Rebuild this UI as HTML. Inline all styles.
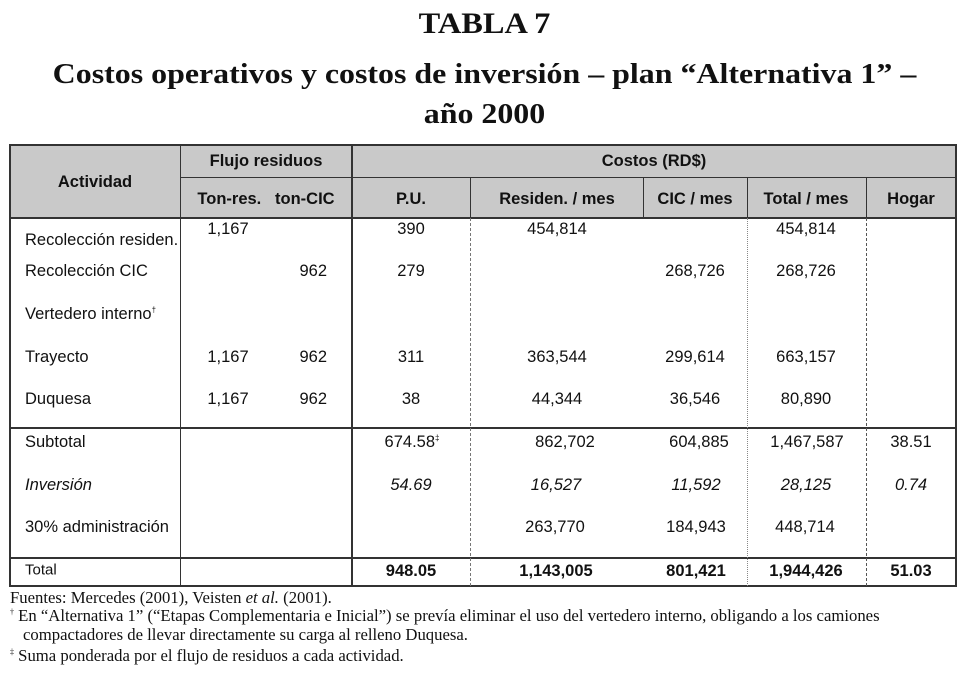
<!DOCTYPE html>
<html><head><meta charset="utf-8"><style>
body{margin:0;width:969px;height:681px;background:#fff;position:relative;overflow:hidden;font-family:"Liberation Sans",sans-serif;color:#111}
.a{position:absolute;white-space:nowrap;line-height:1}
.t{font-family:"Liberation Serif",serif;font-weight:bold;width:969px;text-align:center;left:0}
.c{transform:translate(-50%,-50%);font-size:16.5px}
.l{transform:translateY(-50%);font-size:16.5px}
.r{transform:translate(-100%,-50%);font-size:16.5px}
.b{font-weight:bold}
.i{font-style:italic}
.h{position:absolute;background:#333;height:2px}
.v{position:absolute;background:#333;width:2px}
.f{position:absolute;left:10px;font-family:"Liberation Serif",serif;font-size:16.7px;white-space:nowrap;line-height:1}
</style></head><body>
<div class="a t" style="top:9px;font-size:30px;transform:scaleX(1.08)">TABLA 7</div>
<div class="a t" style="top:61px;font-size:28.5px;transform:scaleX(1.12)">Costos operativos y costos de inversión – plan “Alternativa 1” –</div>
<div class="a t" style="top:101px;font-size:28.5px;transform:scaleX(1.12)">año 2000</div>

<div style="position:absolute;left:10px;top:145px;width:946px;height:73px;background:#c9c9c9"></div>
<div class="h" style="left:10px;top:144px;width:947px"></div>
<div class="h" style="left:181px;top:177px;width:776px;height:1px"></div>
<div class="h" style="left:10px;top:217px;width:947px"></div>
<div class="h" style="left:10px;top:427px;width:947px"></div>
<div class="h" style="left:10px;top:557px;width:947px"></div>
<div class="h" style="left:10px;top:585px;width:947px"></div>
<div class="v" style="left:9px;top:144px;height:443px"></div>
<div class="v" style="left:955px;top:144px;height:443px"></div>
<div class="v" style="left:180px;top:144px;height:443px;width:1px"></div>
<div class="v" style="left:351px;top:144px;height:443px;width:1.5px"></div>
<div class="v" style="left:470px;top:178px;height:40px;width:1px"></div>
<div class="v" style="left:643px;top:178px;height:40px;width:1px"></div>
<div class="v" style="left:747px;top:178px;height:40px;width:1px"></div>
<div class="v" style="left:866px;top:178px;height:40px;width:1px"></div>
<div style="position:absolute;left:470px;top:218px;height:368px;border-left:1px dashed #777"></div>
<div style="position:absolute;left:747px;top:218px;height:368px;border-left:1px dotted #888"></div>
<div style="position:absolute;left:866px;top:218px;height:368px;border-left:1px dashed #555"></div>

<div class="a c b" style="left:95px;top:182px">Actividad</div>
<div class="a c b" style="left:266px;top:161px">Flujo residuos</div>
<div class="a c b" style="left:654px;top:161px">Costos (RD$)</div>
<div class="a c b" style="left:266px;top:199px">Ton-res.&nbsp;&nbsp;&nbsp;ton-CIC</div>
<div class="a c b" style="left:411px;top:199px">P.U.</div>
<div class="a c b" style="left:557px;top:199px">Residen. / mes</div>
<div class="a c b" style="left:695px;top:199px">CIC / mes</div>
<div class="a c b" style="left:806px;top:199px">Total / mes</div>
<div class="a c b" style="left:911px;top:199px">Hogar</div>

<div class="a l" style="left:25px;top:240px">Recolección residen.</div>
<div class="a l" style="left:25px;top:271px">Recolección CIC</div>
<div class="a l" style="left:25px;top:314px">Vertedero interno<sup style="font-size:8px">†</sup></div>
<div class="a l" style="left:25px;top:357px">Trayecto</div>
<div class="a l" style="left:25px;top:399px">Duquesa</div>
<div class="a l" style="left:25px;top:442px">Subtotal</div>
<div class="a l i" style="left:25px;top:485px">Inversión</div>
<div class="a l" style="left:25px;top:527px">30% administración</div>
<div class="a l" style="left:25px;top:570px;font-size:15px">Total</div>

<div class="a c" style="left:228px;top:229px">1,167</div>
<div class="a c" style="left:411px;top:229px">390</div>
<div class="a c" style="left:557px;top:229px">454,814</div>
<div class="a c" style="left:806px;top:229px">454,814</div>

<div class="a r" style="left:327px;top:271px">962</div>
<div class="a c" style="left:411px;top:271px">279</div>
<div class="a c" style="left:695px;top:271px">268,726</div>
<div class="a c" style="left:806px;top:271px">268,726</div>

<div class="a c" style="left:228px;top:357px">1,167</div>
<div class="a r" style="left:327px;top:357px">962</div>
<div class="a c" style="left:411px;top:357px">311</div>
<div class="a c" style="left:557px;top:357px">363,544</div>
<div class="a c" style="left:695px;top:357px">299,614</div>
<div class="a c" style="left:806px;top:357px">663,157</div>

<div class="a c" style="left:228px;top:399px">1,167</div>
<div class="a r" style="left:327px;top:399px">962</div>
<div class="a c" style="left:411px;top:399px">38</div>
<div class="a c" style="left:557px;top:399px">44,344</div>
<div class="a c" style="left:695px;top:399px">36,546</div>
<div class="a c" style="left:806px;top:399px">80,890</div>

<div class="a c" style="left:412px;top:442px">674.58<sup style="font-size:8px">‡</sup></div>
<div class="a c" style="left:565px;top:442px">862,702</div>
<div class="a c" style="left:699px;top:442px">604,885</div>
<div class="a c" style="left:807px;top:442px">1,467,587</div>
<div class="a c" style="left:911px;top:442px">38.51</div>

<div class="a c i" style="left:411px;top:485px">54.69</div>
<div class="a c i" style="left:556px;top:485px">16,527</div>
<div class="a c i" style="left:696px;top:485px">11,592</div>
<div class="a c i" style="left:806px;top:485px">28,125</div>
<div class="a c i" style="left:911px;top:485px">0.74</div>

<div class="a c" style="left:555px;top:527px">263,770</div>
<div class="a c" style="left:696px;top:527px">184,943</div>
<div class="a c" style="left:805px;top:527px">448,714</div>

<div class="a c b" style="left:411px;top:571px">948.05</div>
<div class="a c b" style="left:556px;top:571px">1,143,005</div>
<div class="a c b" style="left:696px;top:571px">801,421</div>
<div class="a c b" style="left:806px;top:571px">1,944,426</div>
<div class="a c b" style="left:911px;top:571px">51.03</div>

<div class="f" style="top:590px">Fuentes: Mercedes (2001), Veisten <i>et al.</i> (2001).</div>
<div class="f" style="top:608px"><sup style="font-size:8px">†</sup> En “Alternativa 1” (“Etapas Complementaria e Inicial”) se prevía eliminar el uso del vertedero interno, obligando a los camiones</div>
<div class="f" style="top:627px;left:23px">compactadores de llevar directamente su carga al relleno Duquesa.</div>
<div class="f" style="top:648px"><sup style="font-size:8px">‡</sup> Suma ponderada por el flujo de residuos a cada actividad.</div>
</body></html>
